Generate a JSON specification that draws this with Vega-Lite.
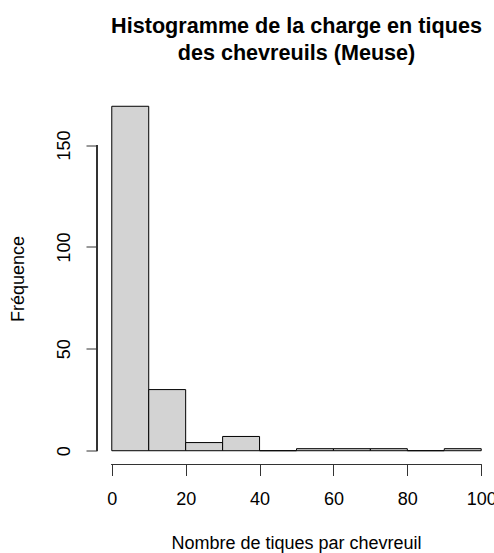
{
  "$schema": "https://vega.github.io/schema/vega-lite/v6.json",
  "autosize": "none",
  "width": 399,
  "height": 372,
  "padding": {"left": 97, "top": 92.5, "right": 0, "bottom": 88.5},
  "background": "white",
  "config": {
    "view": {"stroke": null},
    "font": "Liberation Sans"
  },
  "title": {
    "text": ["Histogramme de la charge en tiques", "des chevreuils (Meuse)"],
    "font": "Liberation Sans",
    "fontSize": 21.6,
    "fontWeight": "bold",
    "color": "black",
    "anchor": "middle",
    "frame": "group",
    "baseline": "bottom",
    "lineHeight": 27,
    "offset": 6
  },
  "data": {
    "values": [
      {"bin_start": 0, "bin_end": 10, "count": 169},
      {"bin_start": 10, "bin_end": 20, "count": 30},
      {"bin_start": 20, "bin_end": 30, "count": 4},
      {"bin_start": 30, "bin_end": 40, "count": 7},
      {"bin_start": 40, "bin_end": 50, "count": 0},
      {"bin_start": 50, "bin_end": 60, "count": 1},
      {"bin_start": 60, "bin_end": 70, "count": 1},
      {"bin_start": 70, "bin_end": 80, "count": 1},
      {"bin_start": 80, "bin_end": 90, "count": 0},
      {"bin_start": 90, "bin_end": 100, "count": 1}
    ]
  },
  "layer": [
    {
      "mark": {"type": "rect", "fill": "#D3D3D3", "stroke": "#000000", "strokeWidth": 1},
      "encoding": {
        "x": {
          "field": "bin_start",
          "type": "quantitative",
          "scale": {"domain": [-4, 104], "nice": false, "zero": false},
          "axis": {
            "values": [0, 20, 40, 60, 80, 100],
            "domain": false,
            "grid": false,
            "tickSize": 11,
            "tickColor": "#333333",
            "labelFont": "Liberation Sans",
            "labelFontSize": 18,
            "labelColor": "black",
            "labelBaseline": "middle",
            "labelPadding": 24,
            "labelFlush": false,
            "labelOverlap": false,
            "title": "Nombre de tiques par chevreuil",
            "titleFont": "Liberation Sans",
            "titleFontSize": 18,
            "titleFontWeight": "normal",
            "titleColor": "black",
            "titleBaseline": "alphabetic",
            "titleX": 199,
            "titleY": 83.5,
            "titleAnchor": "middle"
          }
        },
        "x2": {"field": "bin_end"},
        "y": {
          "field": "count",
          "type": "quantitative",
          "scale": {"domain": [-6.76, 175.76], "nice": false, "zero": false},
          "axis": {
            "values": [0, 50, 100, 150],
            "domain": false,
            "grid": false,
            "tickSize": 11,
            "tickColor": "#333333",
            "labelFont": "Liberation Sans",
            "labelFontSize": 18,
            "labelColor": "black",
            "labelAngle": -90,
            "labelAlign": "center",
            "labelBaseline": "middle",
            "labelPadding": 22,
            "labelFlush": false,
            "labelOverlap": false,
            "title": "Fréquence",
            "titleFont": "Liberation Sans",
            "titleFontSize": 18,
            "titleFontWeight": "normal",
            "titleColor": "black",
            "titleAngle": -90,
            "titleAlign": "center",
            "titleBaseline": "middle",
            "titleX": -79,
            "titleY": 186
          }
        },
        "y2": {"datum": 0}
      }
    },
    {
      "mark": {"type": "rule", "color": "#333333", "strokeWidth": 1},
      "encoding": {
        "x": {"datum": 0},
        "x2": {"datum": 100},
        "y": {"datum": -6.76}
      }
    },
    {
      "mark": {"type": "rule", "color": "#333333", "strokeWidth": 1},
      "encoding": {
        "x": {"datum": -4},
        "y": {"datum": 0},
        "y2": {"datum": 150}
      }
    }
  ]
}
